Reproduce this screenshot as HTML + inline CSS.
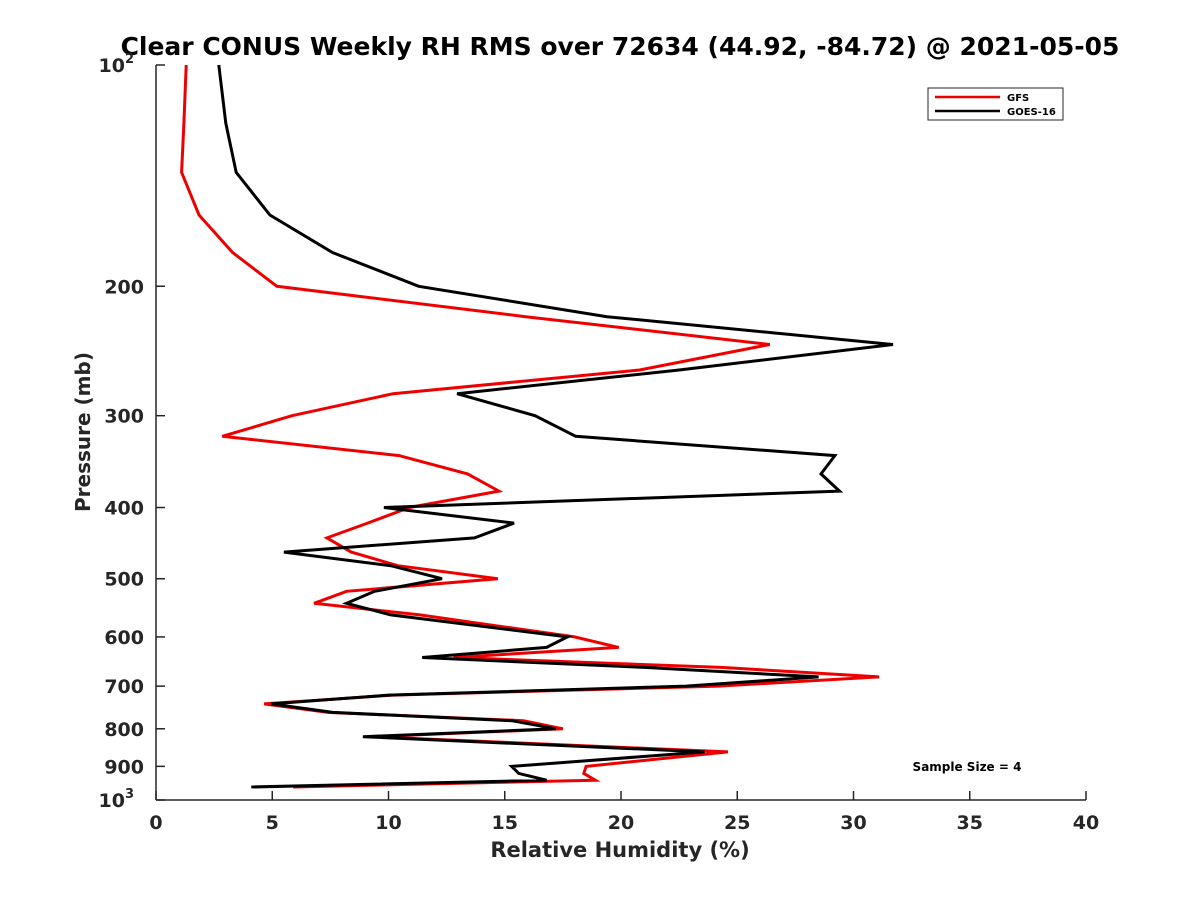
<!DOCTYPE html>
<html><head><meta charset="utf-8"><style>
body{margin:0;background:#fff;}
svg text{font-family:"DejaVu Sans","Liberation Sans",sans-serif;}
</style></head><body>
<svg id="chart" width="1200" height="900" viewBox="0 0 1200 900">
<text x="620" y="55" text-anchor="middle" font-size="25" font-weight="bold">Clear CONUS Weekly RH RMS over 72634 (44.92, -84.72) @ 2021-05-05</text>
<g id="axes"></g>
<g id="series"></g>
<text x="620" y="857" text-anchor="middle" font-size="21" font-weight="bold" fill="#262626">Relative Humidity (%)</text>
<text transform="translate(90,432) rotate(-90)" text-anchor="middle" font-size="20" font-weight="bold" fill="#262626">Pressure (mb)</text>
<g>
<rect x="928" y="88" width="135" height="32" fill="#fff" stroke="#262626" stroke-width="1"/>
<line x1="935" y1="97" x2="1000" y2="97" stroke="#e00" stroke-width="2.5"/>
<text x="1007" y="101" font-size="10" font-weight="bold">GFS</text>
<line x1="935" y1="111" x2="1000" y2="111" stroke="#000" stroke-width="2.5"/>
<text x="1007" y="115" font-size="10" font-weight="bold">GOES-16</text>
</g>
<text x="967" y="771" text-anchor="middle" font-size="12" font-weight="bold">Sample Size = 4</text>
</svg>
<script>
const pressures=[100,120,140,160,180,200,220,240,260,280,300,320,340,360,380,400,420,440,460,480,500,520,540,560,600,620,640,660,680,700,720,740,760,780,800,820,860,900,920,940,960];
const gfsValues=[1.3,1.2,1.1,1.85,3.3,5.2,15.9,26.4,20.8,10.2,5.85,2.85,10.45,13.4,14.75,10.9,9.1,7.35,8.4,10.4,14.7,8.2,6.8,11.35,18,19.9,12.8,24.3,31.1,24.2,10.2,4.65,7.4,15.8,17.5,9.3,24.6,18.5,18.4,18.9,5.9];
const goesValues=[2.7,3.0,3.45,4.9,7.6,11.3,19.4,31.7,22.5,12.95,16.3,18.05,29.2,28.6,29.4,9.8,15.4,13.7,5.5,10.1,12.3,9.4,8.2,10.1,17.7,16.8,11.45,21,28.5,22.8,10.0,4.95,7.6,15.3,17.2,8.9,23.6,15.3,15.6,16.8,4.1];
const xTicks=[0,5,10,15,20,25,30,35,40];
const yTicks=[100,200,300,400,500,600,700,800,900,1000];
const NS='http://www.w3.org/2000/svg';
const X0=156,X1=1086,YT=65,YB=800;
function xs(v){return X0+(v/40)*(X1-X0);}
function ys(p){return YT+(Math.log10(p)-2)*(YB-YT);}
function mk(t,a,parent){const e=document.createElementNS(NS,t);for(const k in a)e.setAttribute(k,a[k]);parent.appendChild(e);return e;}
const ax=document.getElementById('axes');
const xl=mk('line',{x1:X0,y1:YB,x2:X1,y2:YB,stroke:'#262626','stroke-width':1.5},ax);


const yl=mk('line',{x1:X0,y1:YT,x2:X0,y2:YB,stroke:'#262626','stroke-width':1.5},ax);


xTicks.forEach(v=>{
 mk('line',{x1:xs(v),y1:YB,x2:xs(v),y2:YB-9,stroke:'#262626','stroke-width':1.5},ax);
 const t=mk('text',{x:xs(v),y:YB+29,'text-anchor':'middle','font-size':19,'font-weight':'bold',fill:'#262626'},ax);
 t.textContent=v;
 
 
});
yTicks.forEach(p=>{
 const y=ys(p);
 mk('line',{x1:X0,y1:y,x2:X0+9,y2:y,stroke:'#262626','stroke-width':1.5},ax);
 const t=mk('text',{x:X0-12,y:y+7,'text-anchor':'end','font-size':19,'font-weight':'bold',fill:'#262626'},ax);
 if(p===100||p===1000){t.textContent='10';const s=mk('tspan',{dy:-9,'font-size':13},t);s.textContent=p===100?'2':'3';t.setAttribute('x',X0-22);}
 else t.textContent=p;
 
 
});
const sg=document.getElementById('series');
function line(vals,color,name){
 const d=vals.map((v,i)=>(i?'L':'M')+xs(v).toFixed(1)+','+ys(pressures[i]).toFixed(1)).join(' ');
 const p=mk('path',{d:d,fill:'none',stroke:color,'stroke-width':3,'stroke-linejoin':'miter'},sg);
 
 
}
line(gfsValues,'#e00','gfs-line');
line(goesValues,'#000','goes16-line');
</script>
</body></html>
